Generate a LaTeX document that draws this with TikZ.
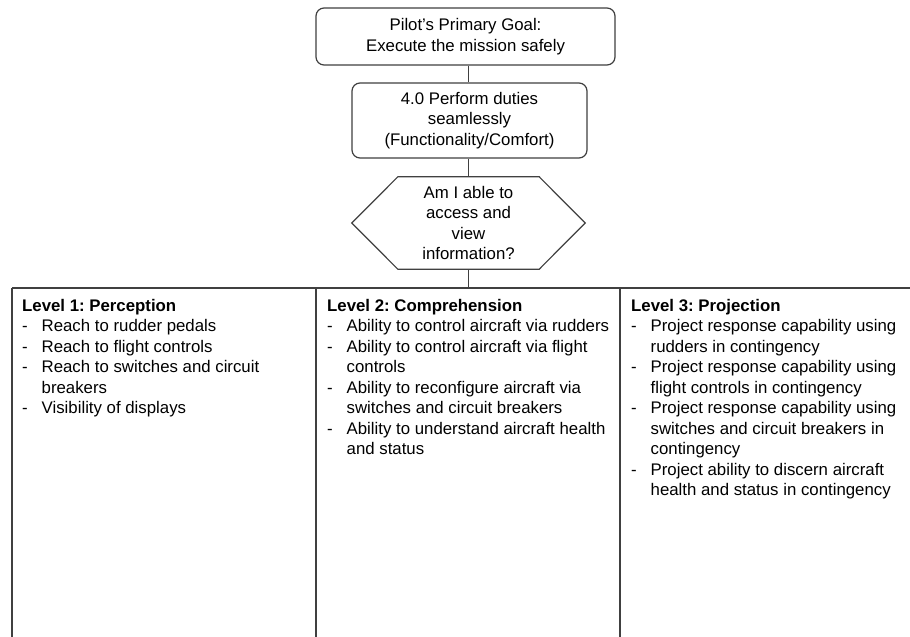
\documentclass[tikz,border=0pt]{standalone}
\usepackage{fontspec}
\setmainfont{Liberation Sans}
\frenchspacing
\definecolor{ln}{HTML}{404040}
\newcommand\itm[1]{\makebox[19.5pt][l]{-}#1}
\newcommand\cont[1]{\hspace*{19.5pt}#1}
\begin{document}
\begin{tikzpicture}[x=1pt,y=-1pt,
  every node/.style={font=\fontsize{16.8}{20.5}\selectfont\frenchspacing, text=black},
  rbox/.style={draw=ln, line width=1.2pt, rounded corners=8pt, align=center, inner sep=0pt},
  coltext/.style={anchor=north west, align=left, inner sep=0pt},
  wire/.style={draw=ln, line width=1.2pt}]
\useasboundingbox (0,0) rectangle (910,637);
\fill[white] (0,0) rectangle (910,637);

\node[rbox, minimum width=299pt, minimum height=57pt] (goal) at (465.5,36.5)
  {Pilot’s Primary Goal:\\Execute the mission safely};
\node[rbox, minimum width=235pt, minimum height=75pt] (duty) at (469.5,120.5)
  {4.0 Perform duties\\seamlessly\\(Functionality/Comfort)};
\node[align=center, inner sep=0pt, minimum width=233pt, minimum height=92pt] (q) at (468.5,223)
  {Am I able to\\access and\\view\\information?};
\draw[wire] (q.west) -- ([xshift=46pt]q.north west) -- ([xshift=-46pt]q.north east)
  -- (q.east) -- ([xshift=-46pt]q.south east) -- ([xshift=46pt]q.south west) -- cycle;

\coordinate (tl) at (12,288);
\coordinate (tr) at (910,288);
\coordinate (tm) at (468.5,288);
\coordinate (d1) at (316,288);
\coordinate (d2) at (620,288);
\coordinate (b0) at (12,637);
\coordinate (b1) at (316,637);
\coordinate (b2) at (620,637);

\draw[wire] (goal.south -| q.north) -- (duty.north -| q.north);
\draw[wire] (duty.south -| q.north) -- (q.north);
\draw[wire] (q.south) -- (tm);
\draw[wire] (tl) -- (tr);
\draw[wire] (tl) -- (b0);
\draw[wire] (d1) -- (b1);
\draw[wire] (d2) -- (b2);

\node[coltext] (c1) at (22,299) {\textbf{Level 1: Perception}\\
\itm{Reach to rudder pedals}\\
\itm{Reach to flight controls}\\
\itm{Reach to switches and circuit}\\
\cont{breakers}\\
\itm{Visibility of displays}};

\node[coltext] (c2) at (327,299) {\textbf{Level 2: Comprehension}\\
\itm{Ability to control aircraft via rudders}\\
\itm{Ability to control aircraft via flight}\\
\cont{controls}\\
\itm{Ability to reconfigure aircraft via}\\
\cont{switches and circuit breakers}\\
\itm{Ability to understand aircraft health}\\
\cont{and status}};

\node[coltext] (c3) at (631,299) {\textbf{Level 3: Projection}\\
\itm{Project response capability using}\\
\cont{rudders in contingency}\\
\itm{Project response capability using}\\
\cont{flight controls in contingency}\\
\itm{Project response capability using}\\
\cont{switches and circuit breakers in}\\
\cont{contingency}\\
\itm{Project ability to discern aircraft}\\
\cont{health and status in contingency}};
\end{tikzpicture}
\end{document}
